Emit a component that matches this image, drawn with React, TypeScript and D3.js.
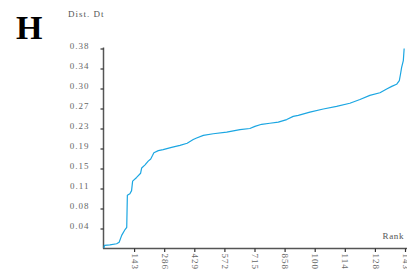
import React, { useEffect, useRef } from 'react';
import * as d3 from 'd3';

// rank (x) and Dist. Dt value (y)
const ranks = [
  0, 2, 28, 60, 72, 84, 100, 108, 111, 123, 131, 136, 155, 174, 179, 195, 210,
  222, 231, 237, 258, 281, 321, 361, 395, 424, 440, 472, 519, 583, 646, 693,
  717, 749, 788, 828, 868, 899, 923, 978, 1042, 1105, 1168, 1216, 1263, 1311,
  1343, 1367, 1390, 1403, 1409, 1414, 1422, 1426,
];
const values = [
  0.001, 0.006, 0.007, 0.009, 0.012, 0.025, 0.036, 0.04, 0.101, 0.104, 0.11,
  0.128, 0.135, 0.143, 0.153, 0.159, 0.166, 0.17, 0.177, 0.182, 0.186, 0.188,
  0.192, 0.196, 0.2, 0.207, 0.21, 0.215, 0.218, 0.221, 0.226, 0.228, 0.232,
  0.236, 0.238, 0.24, 0.245, 0.251, 0.253, 0.259, 0.265, 0.27, 0.276, 0.283,
  0.291, 0.296, 0.303, 0.308, 0.312, 0.319, 0.332, 0.344, 0.357, 0.38,
];
const xTicks = [143, 286, 429, 572, 715, 858, 1001, 1144, 1287, 1430];
const yTicks = [0.038, 0.076, 0.114, 0.152, 0.19, 0.228, 0.266, 0.304, 0.342, 0.38];

const panelLabel = 'H';
const yTitle = 'Dist. Dt';
const xTitle = 'Rank';

export default function App() {
  const ref = useRef<SVGSVGElement>(null);

  useEffect(() => {
    const width = 407;
    const height = 269;
    const svg = d3.select(ref.current);
    svg.selectAll('*').remove();

    const font = '"Liberation Serif", serif';

    const xScale = d3.scaleLinear().domain([0, 1430]).range([104, 405]);
    const yScale = d3.scaleLinear().domain([0, 0.38]).range([248.5, 48.5]);

    const pts = ranks.map((r, i) => [r, values[i]] as [number, number]);

    // panel letter
    svg
      .append('text')
      .attr('x', 16)
      .attr('y', 39)
      .attr('font-family', font)
      .attr('font-weight', 'bold')
      .attr('font-size', 34)
      .attr('fill', '#000')
      .text(panelLabel);

    svg
      .append('text')
      .attr('x', 68)
      .attr('y', 17)
      .attr('font-family', font)
      .attr('font-size', 9)
      .attr('letter-spacing', 1)
      .attr('fill', '#555')
      .text(yTitle);

    svg
      .append('text')
      .attr('x', 404)
      .attr('y', 239)
      .attr('text-anchor', 'end')
      .attr('font-family', font)
      .attr('font-size', 9)
      .attr('letter-spacing', 0.6)
      .attr('fill', '#555')
      .text(xTitle);

    const yAxis = d3
      .axisLeft(yScale)
      .tickValues(yTicks)
      .tickFormat((d) => d3.format('.2f')(d as number))
      .tickSize(3)
      .tickPadding(11);

    const gy = svg
      .append('g')
      .attr('transform', `translate(${xScale(0) - 0.5}, 0)`)
      .call(yAxis);
    gy.select('.domain').attr('stroke', '#555').attr('stroke-width', 1.5).attr('d', `M0,${yScale(0)}V${yScale(0.38) - 1}`);
    gy.selectAll('.tick line').attr('stroke', '#333').attr('stroke-width', 1.2);
    gy.selectAll('.tick text')
      .attr('font-family', font)
      .attr('font-size', 9)
      .attr('letter-spacing', 1)
      .attr('fill', '#666')
      .attr('dy', '0.05em');

    const xAxis = d3
      .axisBottom(xScale)
      .tickValues(xTicks)
      .tickFormat((d) => String(d).slice(0, 3))
      .tickSize(3.5)
      .tickPadding(2);

    const gx = svg
      .append('g')
      .attr('transform', `translate(0, ${yScale(0)})`)
      .call(xAxis);
    gx.select('.domain').attr('stroke', '#555').attr('stroke-width', 1.5).attr('d', `M${xScale(0) - 1},0H${width}`);
    gx.selectAll('.tick line').attr('stroke', '#333').attr('stroke-width', 1.2);
    gx.selectAll('.tick text')
      .attr('font-family', font)
      .attr('font-size', 9)
      .attr('letter-spacing', 1)
      .attr('fill', '#666')
      .attr('text-anchor', 'start')
      .attr('transform', 'rotate(90)')
      .attr('x', 5)
      .attr('y', 0)
      .attr('dy', '0.32em');

    const line = d3
      .line<[number, number]>()
      .x((d) => xScale(d[0]))
      .y((d) => yScale(d[1]));

    svg
      .append('path')
      .datum(pts)
      .attr('fill', 'none')
      .attr('stroke', '#1ba6e2')
      .attr('stroke-width', 1.2)
      .attr('stroke-linejoin', 'round')
      .attr('d', line);

    svg.attr('width', width).attr('height', height);
  }, []);

  return (
    <svg
      ref={ref}
      style={{ position: 'absolute', left: 0, top: 0, display: 'block', background: '#fff' }}
    />
  );
}
